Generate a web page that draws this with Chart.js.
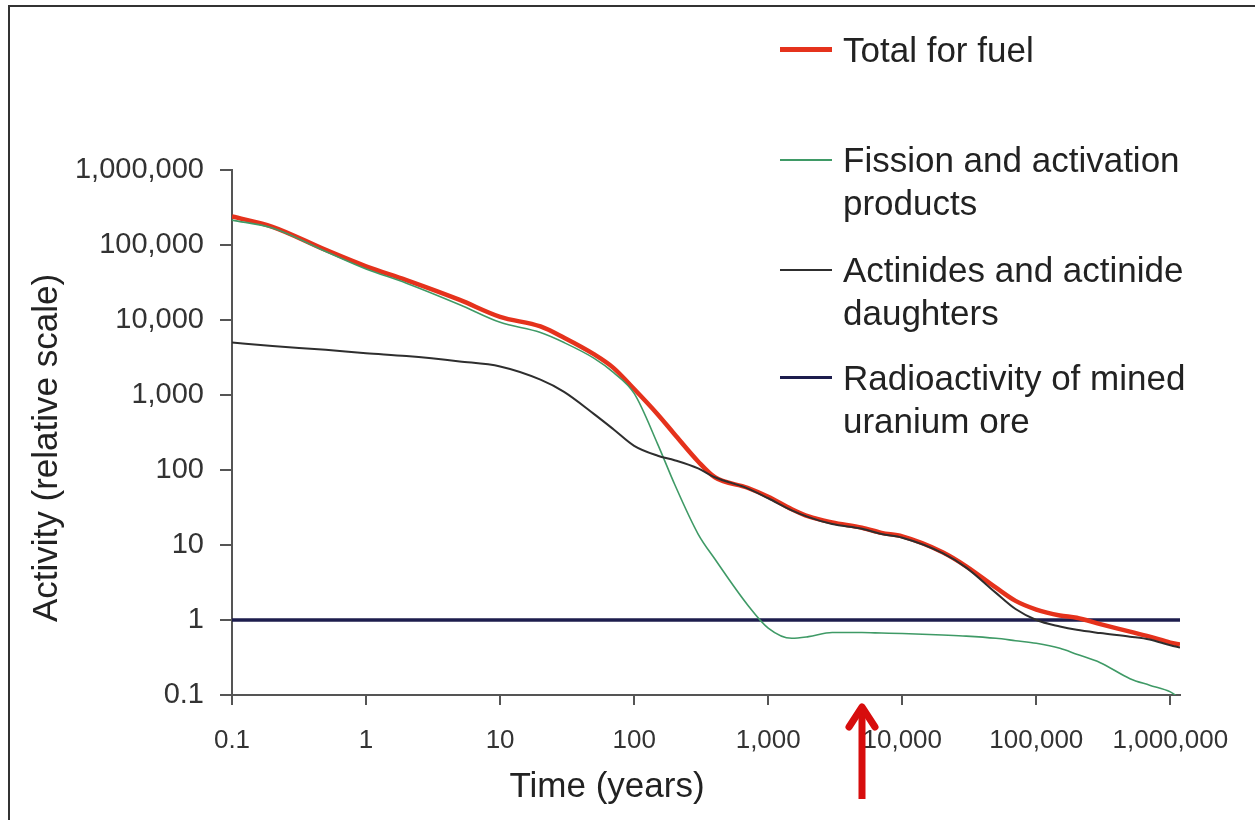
<!DOCTYPE html>
<html>
<head>
<meta charset="utf-8">
<script src="https://cdn.jsdelivr.net/npm/chart.js@4.4.0/dist/chart.umd.min.js"></script>
<style>
  body { margin: 0; background: #fff; font-family: "Liberation Sans", Arial, sans-serif; }
  #wrap { position: relative; width: 1255px; height: 820px; overflow: hidden; }
  #frame { position: absolute; left: 8px; top: 5px; width: 1300px; height: 900px; border-top: 2px solid #333; border-left: 2px solid #333; }
  #chart { position: absolute; left: 0; top: 0; }
  #legend { position: absolute; left: 780px; top: 0; }
  .item { position: absolute; left: 0; width: 460px; }
  .swatch { position: absolute; left: 0; width: 52px; }
  .text { position: absolute; left: 63px; font-size: 35px; line-height: 43px; color: #222; white-space: nowrap; }
  #xtitle { position: absolute; left: 407px; width: 400px; top: 764px; text-align: center; font-size: 35px; line-height: 42px; color: #222; }
  #ytitle { position: absolute; left: -155px; width: 400px; top: 427px; text-align: center; font-size: 35px; line-height: 42px; color: #222; transform: rotate(-90deg); }
  #arrow { position: absolute; left: 0; top: 0; }
</style>
</head>
<body>
<div id="wrap">
  <div id="frame"></div>
  <canvas id="chart" width="1255" height="820"></canvas>
  <div id="legend"></div>
  <div id="xtitle">Time (years)</div>
  <div id="ytitle">Activity (relative scale)</div>
  <svg id="arrow" width="1255" height="820">
    <line x1="862" y1="799" x2="862" y2="712" stroke="#d70d0d" stroke-width="7" stroke-linecap="butt"/>
    <polyline points="849,727 862,707 875,727" fill="none" stroke="#d70d0d" stroke-width="7" stroke-linecap="round" stroke-linejoin="round"/>
  </svg>
</div>
<script>
// time points (years) shared by the three decay curves
const times = [0.1, 0.2, 0.5, 1, 2, 5, 10, 20, 30, 50, 70, 100, 150, 200, 300, 400, 700,
  1000, 1500, 2000, 3000, 5000, 7000, 10000, 20000, 30000, 50000, 70000,
  100000, 150000, 200000, 300000, 500000, 700000, 1000000, 1180000];

const totalFuel = [240000, 175000, 86000, 52000, 34000, 18500, 11000, 8200, 5800, 3500, 2300, 1200,
  550, 300, 130, 80, 58, 44, 30, 24, 20, 17, 14.5, 13, 8, 5.2, 2.7, 1.8,
  1.38, 1.15, 1.07, 0.88, 0.7, 0.6, 0.5, 0.47];

const fissionProducts = [215000, 168000, 82000, 48000, 31000, 16000, 9300, 6800, 5000, 3100, 2000, 1050,
  220, 65, 14, 6.5, 1.6, 0.78, 0.57, 0.6, 0.68, 0.68, 0.67, 0.66, 0.63, 0.61, 0.57, 0.53,
  0.49, 0.42, 0.35, 0.27, 0.165, 0.135, 0.11, 0.09];

const actinides = [5000, 4500, 4000, 3600, 3300, 2800, 2400, 1600, 1100, 560, 350, 210,
  155, 135, 105, 80, 57, 42, 29, 23.5, 19, 16.5, 14, 12.5, 7.8, 5.0, 2.3, 1.4,
  1.0, 0.82, 0.74, 0.67, 0.6, 0.55, 0.46, 0.43];

const oreTimes = [0.1, 1180000];
const oreLevel = [1, 1];

const xTicks = [0.1, 1, 10, 100, 1000, 10000, 100000, 1000000];
const yTicks = [0.1, 1, 10, 100, 1000, 10000, 100000, 1000000];

const seriesNames = [
  ['Total for fuel'],
  ['Fission and activation', 'products'],
  ['Actinides and actinide', 'daughters'],
  ['Radioactivity of mined', 'uranium ore']
];
const seriesColors = ['#e5321c', '#3f9a66', '#2e2e2e', '#1d1d4d'];
const seriesWidths = [4.5, 1.6, 2, 3.5];

function toPoints(xs, ys) {
  return xs.map((x, i) => ({ x: x, y: ys[i] }));
}

function fmt(v) {
  return v < 1 ? String(v) : Number(v).toLocaleString('en-US');
}

// legend (html so the labels can wrap like the original)
const legendTops = [28, 138, 248, 356];
const legend = document.getElementById('legend');
seriesNames.forEach((lines, i) => {
  const item = document.createElement('div');
  item.className = 'item';
  item.style.top = legendTops[i] + 'px';
  const sw = document.createElement('div');
  sw.className = 'swatch';
  sw.style.height = Math.max(seriesWidths[i], 2) + 'px';
  sw.style.top = (21.5 - seriesWidths[i] / 2) + 'px';
  sw.style.background = seriesColors[i];
  const txt = document.createElement('div');
  txt.className = 'text';
  txt.innerHTML = lines.join('<br>');
  item.appendChild(sw);
  item.appendChild(txt);
  legend.appendChild(item);
});

const font = 'Liberation Sans, Arial, sans-serif';

new Chart(document.getElementById('chart'), {
  type: 'line',
  data: {
    datasets: [
      {
        label: seriesNames[2].join(' '),
        data: toPoints(times, actinides),
        borderColor: seriesColors[2],
        borderWidth: seriesWidths[2],
        order: 0
      },
      {
        label: seriesNames[1].join(' '),
        data: toPoints(times, fissionProducts),
        borderColor: seriesColors[1],
        borderWidth: seriesWidths[1],
        order: 1
      },
      {
        label: seriesNames[0].join(' '),
        data: toPoints(times, totalFuel),
        borderColor: seriesColors[0],
        borderWidth: seriesWidths[0],
        order: 2
      },
      {
        label: seriesNames[3].join(' '),
        data: toPoints(oreTimes, oreLevel),
        borderColor: seriesColors[3],
        borderWidth: seriesWidths[3],
        order: 3
      }
    ]
  },
  options: {
    responsive: false,
    animation: false,
    layout: { padding: { left: 20, top: 170, right: 75, bottom: 15 } },
    elements: {
      point: { radius: 0 },
      line: { cubicInterpolationMode: 'monotone', fill: false }
    },
    plugins: {
      legend: { display: false },
      tooltip: { enabled: false }
    },
    scales: {
      x: {
        type: 'logarithmic',
        min: 0.1,
        max: 1180000,
        afterBuildTicks: s => { s.ticks = xTicks.map(v => ({ value: v })); },
        afterFit: s => { s.height = 110; },
        ticks: {
          callback: v => fmt(v),
          font: { family: font, size: 26 },
          color: '#333',
          padding: 20,
          autoSkip: false,
          maxRotation: 0
        },
        grid: { drawOnChartArea: false, tickLength: 10, color: '#555', lineWidth: 2 },
        border: { color: '#555', width: 2 }
      },
      y: {
        type: 'logarithmic',
        min: 0.1,
        max: 1000000,
        afterBuildTicks: s => { s.ticks = yTicks.map(v => ({ value: v })); },
        afterFit: s => { s.width = 212; },
        ticks: {
          callback: v => fmt(v),
          font: { family: font, size: 29 },
          color: '#333',
          padding: 16,
          autoSkip: false
        },
        grid: { drawOnChartArea: false, tickLength: 12, color: '#555', lineWidth: 2 },
        border: { color: '#555', width: 2 }
      }
    }
  }
});
</script>
</body>
</html>
